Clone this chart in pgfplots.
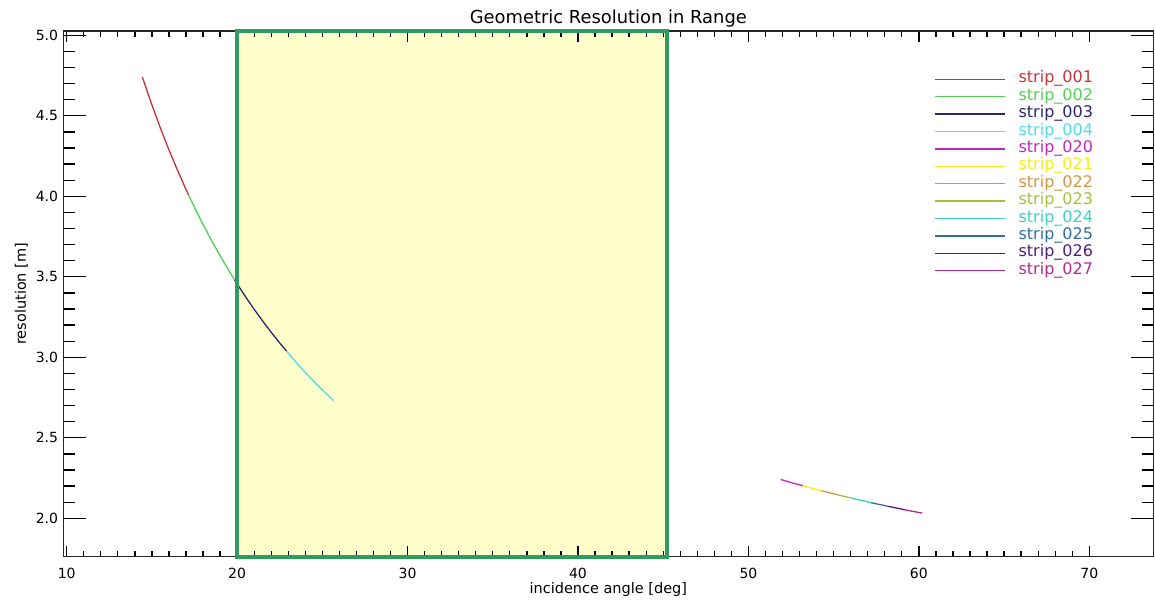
\documentclass[border=0pt]{standalone}
\usepackage{fontspec}
\setmainfont{DejaVu Sans}
\usepackage{pgfplots}
\pgfplotsset{compat=1.18}
\definecolor{c001}{RGB}{200,50,60}
\definecolor{c002}{RGB}{80,210,80}
\definecolor{c003}{RGB}{40,40,110}
\definecolor{c004}{RGB}{80,220,230}
\definecolor{c020}{RGB}{190,40,190}
\definecolor{c021}{RGB}{240,240,20}
\definecolor{c022}{RGB}{210,150,70}
\definecolor{c023}{RGB}{170,190,60}
\definecolor{c024}{RGB}{60,210,190}
\definecolor{c025}{RGB}{50,110,160}
\definecolor{c026}{RGB}{80,30,120}
\definecolor{c027}{RGB}{180,40,150}
\definecolor{boxfill}{RGB}{255,255,204}
\definecolor{boxgreen}{RGB}{46,155,95}
\pgfplotsset{
  base/.style={
    at={(0pt,0pt)}, anchor=south west,
    scale only axis, width=1090pt, height=525.7pt,
    clip=false,
    xmin=9.80, xmax=73.76, ymin=1.7615, ymax=5.0267,
    tick align=inside,
    tick style={line width=1.3pt, color=black},
    axis line style={line width=1.5pt, color=black!85},
    /pgf/number format/assume math mode=true,
    ticklabel style={font=\fontsize{14}{16}\selectfont},
  }
}
\begin{document}
\begin{tikzpicture}
% main axis: y ticks (long), curves, legend
\begin{axis}[base,
  major tick length=22.7pt, minor tick length=11.5pt,
  xtick=\empty,
  ytick={2,2.5,3,3.5,4,4.5,5},
  minor y tick num=4,
  axis on top,
  yticklabel style={/pgf/number format/fixed, /pgf/number format/fixed zerofill, /pgf/number format/precision=1,
    anchor=east, inner sep=0pt, xshift=-5pt},
  title={Geometric Resolution in Range},
  title style={at={(axis description cs:0.5,1)}, anchor=base, yshift=1pt, inner sep=0pt, font=\fontsize{17.9}{20}\selectfont},
  ylabel={resolution [m]},
  ylabel style={at={(axis description cs:-0.0385,0.5)}, anchor=center, inner sep=0pt, font=\fontsize{14.5}{17}\selectfont},
  legend image code/.code={\draw[#1, line width=1.3pt] (0pt,0pt) -- (70pt,0pt);},
  legend cell align=left,
  legend style={at={(0.7987,0.925)}, anchor=north west, draw=none, fill=none,
    inner sep=0pt, column sep=12pt, row sep=0pt,
    nodes={inner sep=1.2pt, text height=11pt, text depth=4pt},
    font=\fontsize{16}{18}\selectfont},
  every axis plot/.append style={line width=1.3pt},
]
\fill[boxfill] (axis cs:20,1.7615) rectangle (axis cs:45.2,5.0267);
\addplot[c001] coordinates {(14.44,4.740) (15,4.567) (15.5,4.423) (16,4.288) (16.5,4.162) (17,4.043) (17.15,4.009)};
\addlegendentry{\textcolor{c001}{strip\_001}}
\addplot[c002] coordinates {(17.15,4.009) (17.5,3.931) (18,3.825) (18.5,3.725) (19,3.631) (19.5,3.541) (19.85,3.481)};
\addlegendentry{\textcolor{c002}{strip\_002}}
\addplot[c003] coordinates {(19.85,3.481) (20,3.456) (20.5,3.375) (21,3.298) (21.5,3.225) (22,3.155) (22.5,3.089) (22.9,3.038)};
\addlegendentry{\textcolor{c003}{strip\_003}}
\addplot[c004] coordinates {(22.9,3.038) (23.5,2.964) (24,2.906) (24.5,2.850) (25,2.797) (25.65,2.731)};
\addlegendentry{\textcolor{c004}{strip\_004}}
\addplot[c020] coordinates {(51.9,2.241) (52.5,2.222) (53,2.208) (53.2,2.202)};
\addlegendentry{\textcolor{c020}{strip\_020}}
\addplot[c021] coordinates {(53.2,2.202) (53.5,2.193) (54,2.179) (54.3,2.171)};
\addlegendentry{\textcolor{c021}{strip\_021}}
\addplot[c022] coordinates {(54.3,2.171) (54.5,2.166) (55,2.152) (55.2,2.147)};
\addlegendentry{\textcolor{c022}{strip\_022}}
\addplot[c023] coordinates {(55.2,2.147) (55.5,2.139) (56,2.127) (56.1,2.124)};
\addlegendentry{\textcolor{c023}{strip\_023}}
\addplot[c024] coordinates {(56.1,2.124) (56.5,2.114) (57,2.102) (57.2,2.097)};
\addlegendentry{\textcolor{c024}{strip\_024}}
\addplot[c025] coordinates {(57.2,2.097) (57.5,2.090) (58,2.079) (58.2,2.074)};
\addlegendentry{\textcolor{c025}{strip\_025}}
\addplot[c026] coordinates {(58.2,2.074) (58.5,2.068) (59,2.057) (59.2,2.052)};
\addlegendentry{\textcolor{c026}{strip\_026}}
\addplot[c027] coordinates {(59.2,2.052) (59.5,2.046) (60,2.036) (60.2,2.032)};
\addlegendentry{\textcolor{c027}{strip\_027}}
\end{axis}
% second axis: x ticks (short) and the green frame
\begin{axis}[base,
  major tick length=10.7pt, minor tick length=6pt,
  xtick={10,20,30,40,50,60,70},
  minor x tick num=9,
  ytick=\empty,
  xticklabel style={anchor=base, inner sep=0pt, yshift=-21.5pt},
  xlabel={incidence angle [deg]},
  xlabel style={at={(axis description cs:0.5,0)}, anchor=base, yshift=-37.3pt, inner sep=0pt, font=\fontsize{14.5}{17}\selectfont},
]
\draw[boxgreen, line width=4pt] (axis cs:20,1.7615) rectangle (axis cs:45.2,5.0267);
\end{axis}
\pgfresetboundingbox
\useasboundingbox (-63.3pt,-44.3pt) rectangle (1091.7pt,556.7pt);
\end{tikzpicture}
\end{document}
